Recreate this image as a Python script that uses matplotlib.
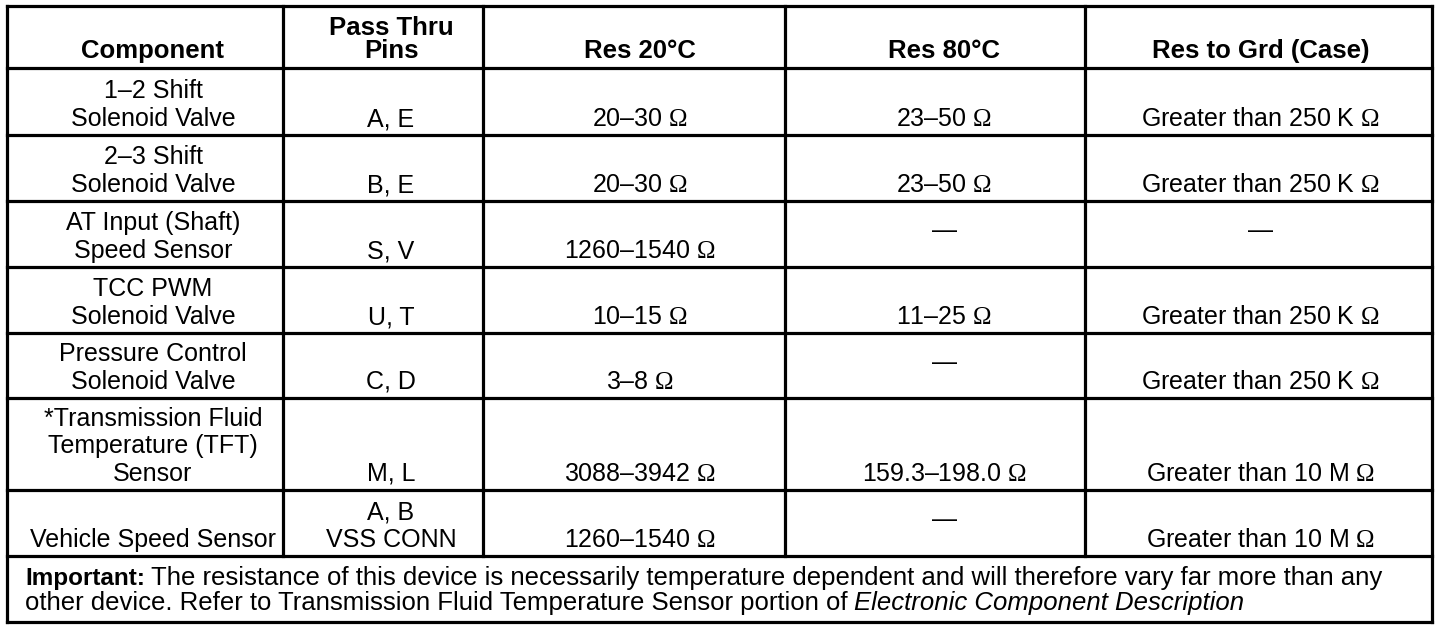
import matplotlib
matplotlib.use("Agg")
import matplotlib.pyplot as plt

plt.rcParams['font.family'] = ['Liberation Sans', 'DejaVu Sans']
plt.rcParams['mathtext.fontset'] = 'custom'
plt.rcParams['mathtext.rm'] = 'Liberation Serif'

OHM = r"$\mathrm{\Omega}$"

headers = ["Component", "Pass Thru\nPins", "Res 20°C", "Res 80°C", "Res to Grd (Case)"]
components = ["1–2 Shift\nSolenoid Valve", "2–3 Shift\nSolenoid Valve",
              "AT Input (Shaft)\nSpeed Sensor", "TCC PWM\nSolenoid Valve",
              "Pressure Control\nSolenoid Valve",
              "*Transmission Fluid\nTemperature (TFT)\nSensor",
              "Vehicle Speed Sensor"]
pins = ["A, E", "B, E", "S, V", "U, T", "C, D", "M, L", "A, B\nVSS CONN"]
res20 = ["20–30 " + OHM, "20–30 " + OHM, "1260–1540 " + OHM, "10–15 " + OHM,
         "3–8 " + OHM, "3088–3942 " + OHM, "1260–1540 " + OHM]
res80 = ["23–50 " + OHM, "23–50 " + OHM, "—", "11–25 " + OHM, "—",
         "159.3–198.0 " + OHM, "—"]
resgrd = ["Greater than 250 K " + OHM, "Greater than 250 K " + OHM, "—",
          "Greater than 250 K " + OHM, "Greater than 250 K " + OHM,
          "Greater than 10 M " + OHM, "Greater than 10 M " + OHM]
note_bold = "Important:"
note_line1 = "The resistance of this device is necessarily temperature dependent and will therefore vary far more than any"
note_line2 = "other device. Refer to Transmission Fluid Temperature Sensor portion of"
note_italic = "Electronic Component Description"

# layout (pixels)
col_x = [7, 283, 483, 785, 1085, 1432]
row_y = [6, 68, 135, 201, 267, 333, 398, 490, 556, 622]
col_shift = [8, 8, 6, 9, 2]
FS = 18
FS_H = 18.5
FS_NB = 17.5
FS_N = 18.5
LW = 2.3

fig = plt.figure(figsize=(14.56, 6.34), dpi=100)
ax = fig.add_axes([0, 0, 1, 1])
ax.set_xlim(0, 1456)
ax.set_ylim(634, 0)
ax.axis('off')

for y in row_y:
    ax.plot([col_x[0], col_x[-1]], [y, y], color='black', lw=LW, solid_capstyle='projecting')
for x in col_x:
    yend = row_y[-1] if x in (col_x[0], col_x[-1]) else row_y[-2]
    ax.plot([x, x], [row_y[0], yend], color='black', lw=LW, solid_capstyle='projecting')

centers = [(col_x[i] + col_x[i + 1]) / 2 + col_shift[i] for i in range(5)]


def cell(ci, ri, txt, bold=False):
    top, bot = row_y[ri], row_y[ri + 1]
    if txt == "—":
        ax.text(centers[ci], (top + bot) / 2 - 3, txt, ha='center', va='center',
                fontsize=FS)
    elif bold:
        ax.text(centers[ci], bot - 5, txt, ha='center', va='bottom', fontsize=FS_H,
                fontweight='bold', linespacing=0.95, multialignment='center')
    else:
        ax.text(centers[ci], bot - 4, txt, ha='center', va='bottom', fontsize=FS,
                linespacing=1.19, multialignment='center')


for ci, h in enumerate(headers):
    cell(ci, 0, h, bold=True)

for ri in range(len(components)):
    cell(0, ri + 1, components[ri])
    cell(1, ri + 1, pins[ri])
    cell(2, ri + 1, res20[ri])
    cell(3, ri + 1, res80[ri])
    cell(4, ri + 1, resgrd[ri])

t1 = ax.text(25, 585, note_bold, ha='left', va='baseline', fontsize=FS_NB, fontweight='bold')
ax.annotate(note_line1, xy=(1, 0), xycoords=t1, xytext=(6, 0), textcoords='offset pixels',
            ha='left', va='bottom', fontsize=FS_N)
t2 = ax.text(25, 610, note_line2, ha='left', va='baseline', fontsize=FS_N)
ax.annotate(note_italic, xy=(1, 0), xycoords=t2, xytext=(6, 0), textcoords='offset pixels',
            ha='left', va='bottom', fontsize=FS_N, style='italic')

fig.savefig("out.png", dpi=100, facecolor='white')
